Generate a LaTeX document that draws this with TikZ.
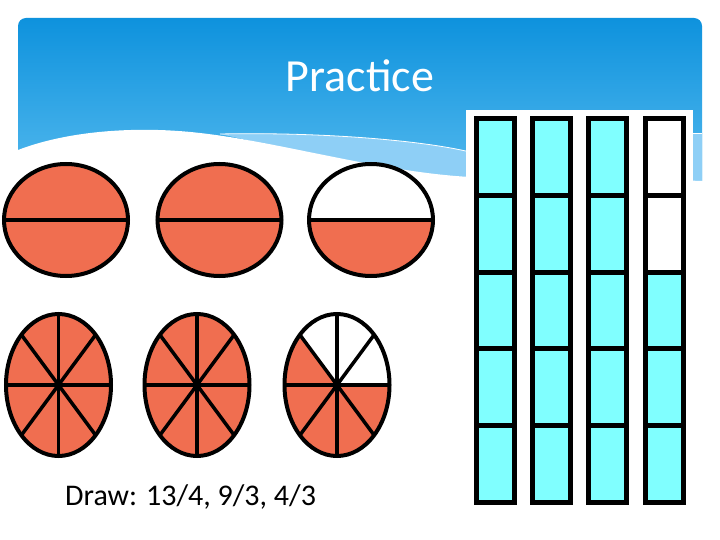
\documentclass[tikz,border=0pt]{standalone}
\usepackage{fontspec}
\setmainfont{Carlito}
\usepackage{xcolor}
\usepackage{tikz}
\usetikzlibrary{positioning}
\definecolor{hdtop}{RGB}{14,146,221}
\definecolor{hdbot}{RGB}{92,190,240}
\definecolor{hdband}{RGB}{142,207,246}
\definecolor{pie}{RGB}{240,110,80}
\definecolor{cell}{RGB}{128,255,255}

\begin{document}
\begin{tikzpicture}[x=1pt, y=-1pt,
    rim/.style={draw=black, line width=4pt},
    cut/.style={draw=black, line width=3.5pt},
    barcell/.style={fill=cell, draw=black, line width=5pt}]
    \useasboundingbox (0,0) rectangle (720,540);
    \fill[white] (0,0) rectangle (720,540);

    % header with wave
    \shade[top color=hdtop, bottom color=hdbot] (18,205) [rounded corners=8pt] -- (18,18) -- (702,18) [sharp corners] -- (702,205) -- cycle;
    \fill[hdband] (220,134) .. controls (320,132) and (420,140) .. (470,152) -- (702,133) -- (702,190) -- (470,190) -- cycle;
    \draw[white, line width=0.8pt] (220,134) .. controls (320,132) and (420,140) .. (470,152);
    \draw[white, line width=0.8pt] (690,133) -- (702,133);
    \fill[white] (10,152) -- (18,150) .. controls (70,130) and (140,126) .. (200,133) .. controls (280,142) and (380,172) .. (470,177) -- (710,181) -- (710,220) -- (10,220) -- cycle;
    \node[anchor=base, color=white, font=\fontsize{46}{46}\selectfont] (title) at (360,92) {Practice};

    % halves: 1, 1, 1/2
    \foreach \cx in {66, 219.5} {
      \fill[pie] (\cx,220) ellipse[x radius=62, y radius=56];
      \draw[cut] (\cx-62,220) -- (\cx+62,220);
      \draw[rim] (\cx,220) ellipse[x radius=62, y radius=56];
    }
    \fill[pie] (371,220) ++(-62,0) arc[start angle=180, end angle=0, x radius=62, y radius=56] -- cycle;
    \draw[cut] (309,220) -- (433,220);
    \draw[rim] (371,220) ellipse[x radius=62, y radius=56];

    % eighths: 1, 1, 5/8
    \foreach \cx/\open in {58.5/0, 197/0, 337/1} {
      \begin{scope}[shift={(\cx,385)}]
        \fill[pie] (0,0) ellipse[x radius=52.5, y radius=71];
        \ifnum\open=1
          \fill[white] (0,0) -- (52.5,0) arc[start angle=0, end angle=-135, x radius=52.5, y radius=71] -- cycle;
        \fi
        \foreach \a in {0,45,90,135}
          \draw[cut] (\a:52.5 and 71) -- (\a+180:52.5 and 71);
        \draw[rim] (0,0) ellipse[x radius=52.5, y radius=71];
      \end{scope}
    }

    % fifths: 5/5, 5/5, 5/5, 3/5
    \fill[white] (466,110) rectangle (693,505);
    \foreach \bx/\blank in {476.5/0, 532.5/0, 588.5/0, 645.5/2} {
      \foreach \k in {0,...,4} {
        \ifnum\k<\blank
          \draw[barcell, fill=white] (\bx,118.5+76.8*\k) rectangle (\bx+38,118.5+76.8*\k+76.8);
        \else
          \draw[barcell] (\bx,118.5+76.8*\k) rectangle (\bx+38,118.5+76.8*\k+76.8);
        \fi
      }
    }

    \node[anchor=base west, inner sep=0pt, font=\fontsize{30}{30}\selectfont] (task) at (65,505) {Draw: 13/4, 9/3, 4/3};
  \end{tikzpicture}
\end{document}
